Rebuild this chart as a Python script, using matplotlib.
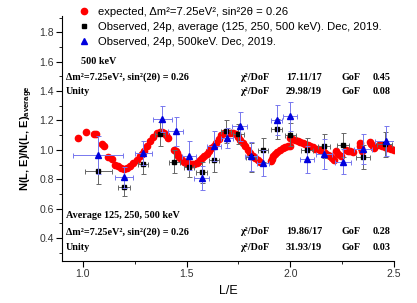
import numpy as np
import matplotlib
matplotlib.use("Agg")
import matplotlib.pyplot as plt
from matplotlib.lines import Line2D
from matplotlib.ticker import MultipleLocator

# expected curve (red dots)
exp_le = [0.977, 1.014, 1.055, 1.065, 1.09, 1.10, 1.122, 1.138, 1.155, 1.17,
          1.185, 1.20, 1.215, 1.227, 1.243, 1.26, 1.276, 1.285, 1.295, 1.309,
          1.324, 1.34, 1.356, 1.37, 1.38, 1.39, 1.40, 1.41, 1.44, 1.447,
          1.453, 1.46, 1.469, 1.478, 1.486, 1.497, 1.507, 1.516, 1.526, 1.538,
          1.549, 1.557, 1.565, 1.575, 1.585, 1.597, 1.606, 1.618, 1.63, 1.642,
          1.654, 1.666, 1.678, 1.694, 1.71, 1.724, 1.737, 1.748, 1.758, 1.77,
          1.783, 1.795, 1.807, 1.82, 1.831, 1.842, 1.852,
          1.905, 1.911, 1.918, 1.927, 1.938, 1.951, 1.963, 1.976, 1.988, 2.0,
          1.997, 2.01, 2.024, 2.036, 2.048, 2.06, 2.072, 2.085, 2.097, 2.109,
          2.121, 2.133, 2.145, 2.157, 2.169, 2.181, 2.193, 2.201, 2.209,
          2.22, 2.232, 2.245, 2.266, 2.278, 2.29, 2.30,
          2.334, 2.338, 2.342, 2.346, 2.385, 2.39, 2.397, 2.405,
          2.425, 2.435, 2.443, 2.455, 2.465, 2.475, 2.487, 2.5]
exp_val = [1.084, 1.12, 1.107, 1.11, 1.039, 1.027, 0.95, 0.937, 0.898, 0.887,
           0.875, 0.868, 0.875, 0.887, 0.91, 0.932, 0.955, 0.97, 0.989, 1.023,
           1.057, 1.09, 1.113, 1.12, 1.12, 1.115, 1.102, 1.08, 1.0, 0.99,
           0.98, 0.96, 0.943, 0.93, 0.92, 0.912, 0.909, 0.905, 0.902, 0.905,
           0.909, 0.92, 0.932, 0.945, 0.955, 0.975, 0.99, 1.01, 1.025, 1.05,
           1.075, 1.1, 1.113, 1.118, 1.118, 1.112, 1.106, 1.09, 1.068, 1.045,
           1.023, 1.0, 0.977, 0.96, 0.943, 0.93, 0.92,
           0.925, 0.936, 0.955, 0.972, 0.988, 1.0, 1.01, 1.018, 1.024, 1.027,
           1.079, 1.075, 1.07, 1.062, 1.054, 1.048, 1.043, 1.035, 1.027, 1.018,
           1.009, 1.003, 0.998, 0.99, 0.98, 0.968, 0.957, 0.944, 0.93,
           0.99, 0.97, 0.955, 1.0, 0.995, 0.99, 0.985,
           1.045, 1.025, 1.01, 0.995, 1.055, 1.04, 1.025, 1.01,
           1.035, 1.03, 1.025, 1.02, 1.015, 1.011, 1.005, 1.0]

# observed average (black squares)
avg_le = [1.074, 1.198, 1.291, 1.373, 1.441, 1.512, 1.572, 1.633, 1.691, 1.75,
          1.81, 1.868, 1.934, 2.0, 2.081, 2.161, 2.253, 2.35, 2.456]
avg_val = [0.857, 0.746, 0.903, 1.107, 0.92, 0.886, 0.848, 0.932, 1.125, 1.107,
           0.95, 1.0, 1.141, 1.104, 1.0, 1.027, 1.034, 0.95, 1.039]
avg_yerr = [0.09, 0.06, 0.07, 0.08, 0.08, 0.07, 0.07, 0.08, 0.08, 0.07,
            0.1, 0.08, 0.07, 0.08, 0.08, 0.08, 0.08, 0.08, 0.085]
avg_xerr = [0.065, 0.03, 0.025, 0.025, 0.025, 0.025, 0.025, 0.025, 0.025, 0.025,
            0.025, 0.025, 0.025, 0.028, 0.028, 0.03, 0.03, 0.034, 0.036]

# observed 500 keV (blue triangles)
k500_le = [1.074, 1.198, 1.291, 1.383, 1.447, 1.512, 1.572, 1.633, 1.694, 1.755,
           1.81, 1.868, 1.934, 2.0, 2.081, 2.161, 2.253, 2.35, 2.459]
k500_val = [0.966, 0.814, 0.977, 1.209, 1.125, 0.96, 0.807, 1.027, 1.08, 1.159,
            0.955, 0.909, 1.204, 1.227, 0.936, 0.973, 0.92, 1.007, 1.061]
k500_yerr = [0.13, 0.07, 0.08, 0.09, 0.1, 0.1, 0.08, 0.1, 0.07, 0.1,
             0.1, 0.09, 0.1, 0.1, 0.09, 0.1, 0.085, 0.1, 0.1]
k500_xerr = [0.12, 0.045, 0.04, 0.045, 0.035, 0.035, 0.035, 0.035, 0.03, 0.034,
             0.03, 0.03, 0.027, 0.034, 0.035, 0.038, 0.04, 0.045, 0.05]

plt.rcParams['font.family'] = ['Liberation Sans', 'DejaVu Sans']
plt.rcParams['mathtext.fontset'] = 'custom'
plt.rcParams['mathtext.rm'] = 'Liberation Sans'
plt.rcParams['mathtext.bf'] = 'Liberation Sans:bold'

fig = plt.figure(figsize=(4.17, 3.03), dpi=100)
ax = fig.add_axes([0.149, 0.139, 0.796, 0.808])

ax.plot(exp_le, exp_val, 'o', color='red', ms=4.5, mec='red', zorder=2)
ax.errorbar(avg_le, avg_val, yerr=avg_yerr, xerr=avg_xerr, fmt='s', color='black',
            ms=3.4, ecolor='#666666', elinewidth=0.7, capsize=1.8, capthick=0.7,
            zorder=3)
ax.errorbar(k500_le, k500_val, yerr=k500_yerr, xerr=k500_xerr, fmt='^', color='#0000dd',
            ms=4.2, ecolor='#7777ee', elinewidth=0.7, capsize=1.8, capthick=0.7,
            zorder=4)

ax.set_xlim(0.9, 2.5)
ax.set_ylim(0.245, 1.91)
ax.xaxis.set_minor_locator(MultipleLocator(0.25))
ax.yaxis.set_minor_locator(MultipleLocator(0.1))
ax.set_yticks(np.arange(0.4, 1.81, 0.2))
ax.set_yticklabels([f'{v:.1f}' for v in np.arange(0.4, 1.81, 0.2)])
ax.set_xticks([1.0, 1.5, 2.0, 2.5])
ax.set_xticklabels(['1.0', '1.5', '2.0', '2.5'])
ax.tick_params(which='major', direction='out', length=4, width=0.8, labelsize=7.5,
               labelcolor='#333333', pad=2)
ax.tick_params(which='minor', direction='out', length=2, width=0.6)
for s in ['top', 'right']:
    ax.spines[s].set_visible(False)

ax.set_xlabel('L/E', fontsize=9, labelpad=4)
ax.set_ylabel('N(L, E)/N(L, E)$_{\\mathbf{average}}$', fontsize=8, fontweight='bold',
              labelpad=3)

handles = [
    Line2D([], [], ls='none', marker='o', color='red', ms=4.5),
    Line2D([], [], ls='none', marker='s', color='black', ms=3.4),
    Line2D([], [], ls='none', marker='^', color='#0000dd', ms=4.2),
]
labels = [
    'expected, Δm²=7.25eV², sin²2θ = 0.26',
    'Observed, 24p, average (125, 250, 500 keV). Dec, 2019.',
    'Observed, 24p, 500keV. Dec, 2019.',
]
fig.legend(handles, labels, loc='upper left', bbox_to_anchor=(0.16, 1.01),
           frameon=False, fontsize=8.1, handletextpad=0.7, labelspacing=0.42,
           handlelength=1.2)

serif = dict(family=['Liberation Serif', 'DejaVu Serif'], fontweight='bold',
             fontsize=7.3, transform=fig.transFigure, va='center')


def row(y, left, chi_val=None, gof=None):
    fy = 1 - y / 303
    fig.text(66 / 417, fy, left, **serif)
    if chi_val is not None:
        fig.text(240 / 417, fy, 'χ²/DoF', **serif)
        fig.text(286 / 417, fy, chi_val, **serif)
        fig.text(342 / 417, fy, 'GoF', **serif)
        fig.text(373 / 417, fy, gof, **serif)


fig.text(81 / 417, 1 - 62 / 303, '500 keV', **serif)
row(77, 'Δm²=7.25eV², sin²(2θ) = 0.26', chi_val='17.11/17', gof='0.45')
row(92, 'Unity', chi_val='29.98/19', gof='0.08')
row(216, 'Average 125, 250, 500 keV')
row(232, 'Δm²=7.25eV², sin²(2θ) = 0.26', chi_val='19.86/17', gof='0.28')
row(247, 'Unity', chi_val='31.93/19', gof='0.03')

fig.savefig('out.png', dpi=100)
